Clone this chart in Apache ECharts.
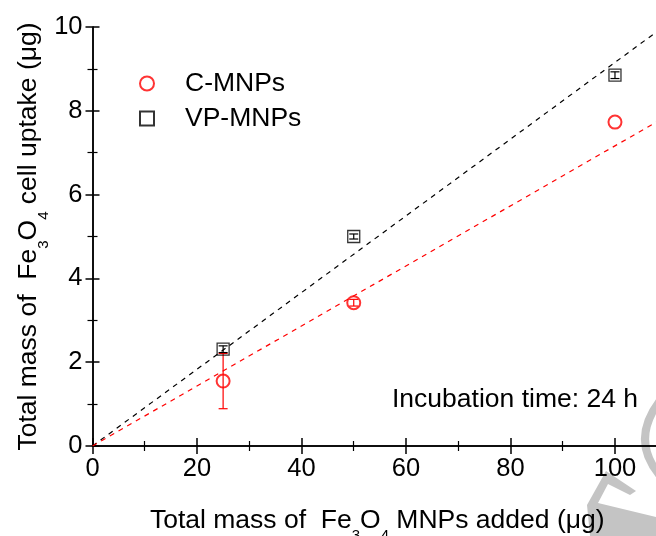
<!DOCTYPE html>
<html>
<head>
<meta charset="utf-8">
<script src="https://cdn.jsdelivr.net/npm/echarts@6/dist/echarts.min.js"></script>
<style>html,body{margin:0;padding:0;background:#fff;}#c{width:656px;height:536px;}</style>
</head>
<body>
<div id="c"></div>
<script>
// ---- data ----
const doses = [25, 50, 100];
const cMnps = [1.55, 3.42, 7.73];
const cErr = [0.66, 0.08, 0.0];
const vpMnps = [2.31, 5.0, 8.85];
const vpErr = [0.08, 0.06, 0.08];
const fitX = [0, 110];
const fitC = [0, 7.88];
const fitVP = [0, 10.07];
const seriesNames = ['C-MNPs', 'VP-MNPs'];
const noteText = 'Incubation time: 24 h';

const FONT = '"Liberation Sans", Arial, sans-serif';
const pts = (xs, ys) => xs.map((x, i) => [x, ys[i]]);
const errData = (xs, ys, es) => xs.map((x, i) => [x, ys[i] - es[i], ys[i] + es[i]]).filter((d, i) => es[i] > 0);

function errRender(color, capHalf) {
  return function (params, api) {
    const x = api.value(0), lo = api.value(1), hi = api.value(2);
    const pLo = api.coord([x, lo]), pHi = api.coord([x, hi]);
    const st = { stroke: color, lineWidth: 1.2 };
    return {
      type: 'group',
      children: [
        { type: 'line', shape: { x1: pLo[0], y1: pLo[1], x2: pHi[0], y2: pHi[1] }, style: st },
        { type: 'line', shape: { x1: pLo[0] - capHalf, y1: pLo[1], x2: pLo[0] + capHalf, y2: pLo[1] }, style: st },
        { type: 'line', shape: { x1: pHi[0] - capHalf, y1: pHi[1], x2: pHi[0] + capHalf, y2: pHi[1] }, style: st }
      ]
    };
  };
}

const chart = echarts.init(document.getElementById('c'), null, { renderer: 'canvas' });
const axisLineStyle = { color: '#000', width: 1.5 };
const nameRich = {
  n: { fontSize: 26.5, fontFamily: FONT, color: '#000' },
  s: { fontSize: 15, fontFamily: FONT, color: '#000', verticalAlign: 'bottom', padding: [0, 0, -9, 0] }
};

chart.setOption({
  animation: false,
  backgroundColor: '#fff',
  grid: { left: 92.5, width: 569.5, top: 27, height: 419, outerBoundsMode: 'none', containLabel: false },
  legend: {
    orient: 'vertical', left: 134, top: 65, itemGap: 8,
    itemWidth: 14, itemHeight: 14,
    data: seriesNames,
    textStyle: { fontSize: 26.5, fontFamily: FONT, color: '#000', padding: [0, 0, 0, 26] }
  },
  xAxis: [{
    type: 'value', min: 0, max: 109, interval: 20,
    axisLine: { show: true, lineStyle: axisLineStyle },
    axisTick: { show: true, inside: true, length: 8, lineStyle: { color: '#000', width: 1.5 } },
    minorTick: { show: true, splitNumber: 2, length: 5, lineStyle: { color: '#000', width: 1.2 } },
    splitLine: { show: false },
    axisLabel: { fontSize: 25.5, fontFamily: FONT, color: '#000', margin: 10, showMaxLabel: false },
    name: '{n|Total mass of  Fe}{s|3}{n|O}{s|4}{n| MNPs added (μg)}',
    nameLocation: 'middle', nameGap: 61, nameMoveOverlap: false,
    nameTextStyle: { rich: nameRich }
  }, {
    type: 'value', min: 0, max: 109, interval: 20, position: 'top',
    axisLine: { show: true, lineStyle: axisLineStyle },
    axisTick: { show: true, inside: true, length: 8, lineStyle: { color: '#000', width: 1.5 } },
    minorTick: { show: true, splitNumber: 2, length: 5, lineStyle: { color: '#000', width: 1.2 } },
    splitLine: { show: false },
    axisLabel: { show: false }
  }],
  yAxis: [{
    type: 'value', min: 0, max: 10, interval: 2,
    axisLine: { show: true, lineStyle: axisLineStyle },
    axisTick: { show: true, inside: true, length: 7, lineStyle: { color: '#000', width: 1.5 } },
    minorTick: { show: true, splitNumber: 2, length: 5, lineStyle: { color: '#000', width: 1.2 } },
    splitLine: { show: false },
    axisLabel: { fontSize: 25.5, fontFamily: FONT, color: '#000', margin: 10 },
    name: '{n|Total mass of  Fe}{s|3}{n|O}{s|4}{n| cell uptake (μg)}',
    nameLocation: 'middle', nameGap: 50, nameRotate: 90, nameMoveOverlap: false,
    nameTextStyle: { rich: nameRich }
  }, {
    type: 'value', min: 0, max: 10, interval: 2, position: 'right',
    axisLine: { show: true, lineStyle: axisLineStyle },
    axisTick: { show: true, inside: true, length: 7, lineStyle: { color: '#000', width: 1.5 } },
    minorTick: { show: true, splitNumber: 2, length: 5, lineStyle: { color: '#000', width: 1.2 } },
    splitLine: { show: false },
    axisLabel: { show: false }
  }],
  series: [
    {
      type: 'line', data: pts(fitX, fitVP), symbol: 'none', silent: true, clip: true,
      lineStyle: { color: '#000', width: 1.2, type: [5, 5] }, z: 1
    },
    {
      type: 'line', data: pts(fitX, fitC), symbol: 'none', silent: true, clip: true,
      lineStyle: { color: '#ff0000', width: 1.2, type: [5, 5] }, z: 1
    },
    {
      type: 'custom', data: errData(doses, cMnps, cErr), renderItem: errRender('#ff0000', 4.5),
      encode: { x: 0, y: [1, 2] }, z: 2, silent: true
    },
    {
      type: 'custom', data: errData(doses, vpMnps, vpErr), renderItem: errRender('#000', 4.5),
      encode: { x: 0, y: [1, 2] }, z: 2, silent: true
    },
    {
      name: seriesNames[0], type: 'scatter', data: pts(doses, cMnps),
      symbol: 'circle', symbolSize: 13, z: 3,
      itemStyle: { color: 'rgba(255,255,255,0)', borderColor: '#ff0000', borderWidth: 2 }
    },
    {
      name: seriesNames[1], type: 'scatter', data: pts(doses, vpMnps),
      symbol: 'rect', symbolSize: 12, z: 3,
      itemStyle: { color: 'rgba(255,255,255,0)', borderColor: '#000', borderWidth: 1.3 }
    }
  ],
  graphic: [
    {
      type: 'text', left: 392, top: 386, z: 10,
      style: { text: noteText, fontSize: 26.5, fontFamily: FONT, fill: '#000' }
    },
    {
      type: 'bezierCurve', z: 0, silent: true,
      shape: { x1: 662, y1: 398, cpx1: 628, cpy1: 440, x2: 662, y2: 478 },
      style: { stroke: '#c4c4c4', lineWidth: 8, fill: null }
    },
    {
      type: 'polygon', z: 0, silent: true,
      shape: { points: [[606, 471], [636, 491], [630, 495], [608, 484], [598, 503], [656, 517], [656, 536], [590, 536], [587, 505]] },
      style: { fill: '#c4c4c4' }
    }
  ]
});
</script>
</body>
</html>
